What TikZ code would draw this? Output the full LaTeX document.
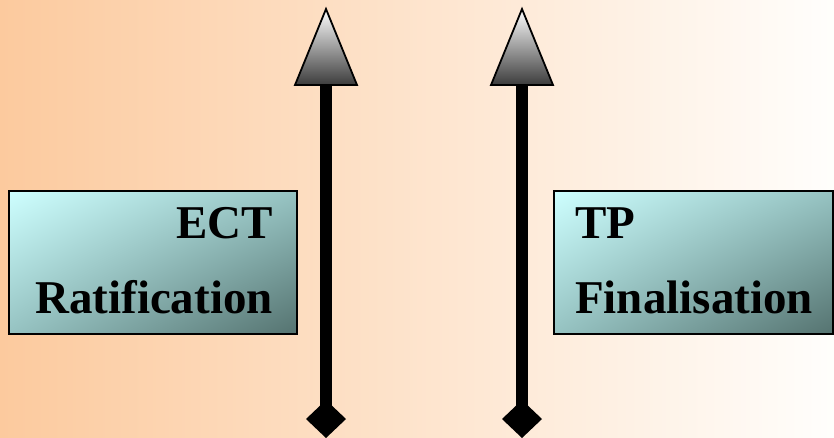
\documentclass[tikz,border=0pt]{standalone}
\usepackage{fontspec}
\setmainfont{Liberation Serif}
\usetikzlibrary{shadings}
\definecolor{bgL}{RGB}{252,202,158}
\definecolor{bgM}{RGB}{254,228,208}
\definecolor{bgR}{RGB}{255,254,252}
\definecolor{boxTL}{RGB}{206,255,255}
\definecolor{boxMid}{RGB}{150,195,194}
\definecolor{boxBR}{RGB}{85,115,112}
\definecolor{headBot}{RGB}{60,60,60}
\tikzset{
  x=1pt, y=-1pt,
  stagebox/.style={draw=black, line width=1.5pt, rectangle, minimum width=288pt, minimum height=143pt, inner sep=0pt,
    upper left=boxTL, upper right=boxMid, lower left=boxMid, lower right=boxBR},
  lbl/.style={font=\bfseries\fontsize{47pt}{56pt}\selectfont, inner sep=0pt, text=black},
  shaft/.style={line width=12pt, black},
  head/.style={draw=black, line width=1.8pt, line join=miter, top color=white, bottom color=headBot},
  foot/.style={fill=black}
}
\begin{document}
\begin{tikzpicture}
\useasboundingbox (0,0) rectangle (834,437);
\shade[left color=bgL, middle color=bgM, right color=bgR] (0,0) rectangle (834,437);

% boxes
\node[stagebox, anchor=north west] (ect) at (8,190) {};
\node[stagebox, anchor=north west, minimum width=279pt] (tp) at (553,190) {};
\node[lbl, anchor=base east] (ectA) at (273,238) {ECT};
\node[lbl, anchor=base east] (ectB) at (273,313) {Ratification};
\node[lbl, anchor=base west] (tpA) at (575,238) {TP};
\node[lbl, anchor=base west] (tpB) at (575,313) {Finalisation};

% arrows
\coordinate (a1top) at (326,84);
\coordinate (a1bot) at (326,412);
\coordinate (a2top) at (522,84);
\coordinate (a2bot) at (522,412);
\draw[shaft] (a1top) -- (a1bot);
\draw[shaft] (a2top) -- (a2bot);
\shade[head] (326,9) -- (357,85) -- (295,85) -- cycle;
\shade[head] (522,9) -- (553,85) -- (491,85) -- cycle;
\fill[foot] (326,400) -- (346,419) -- (326,438) -- (306,419) -- cycle;
\fill[foot] (522,400) -- (542,419) -- (522,438) -- (502,419) -- cycle;
\end{tikzpicture}
\end{document}
